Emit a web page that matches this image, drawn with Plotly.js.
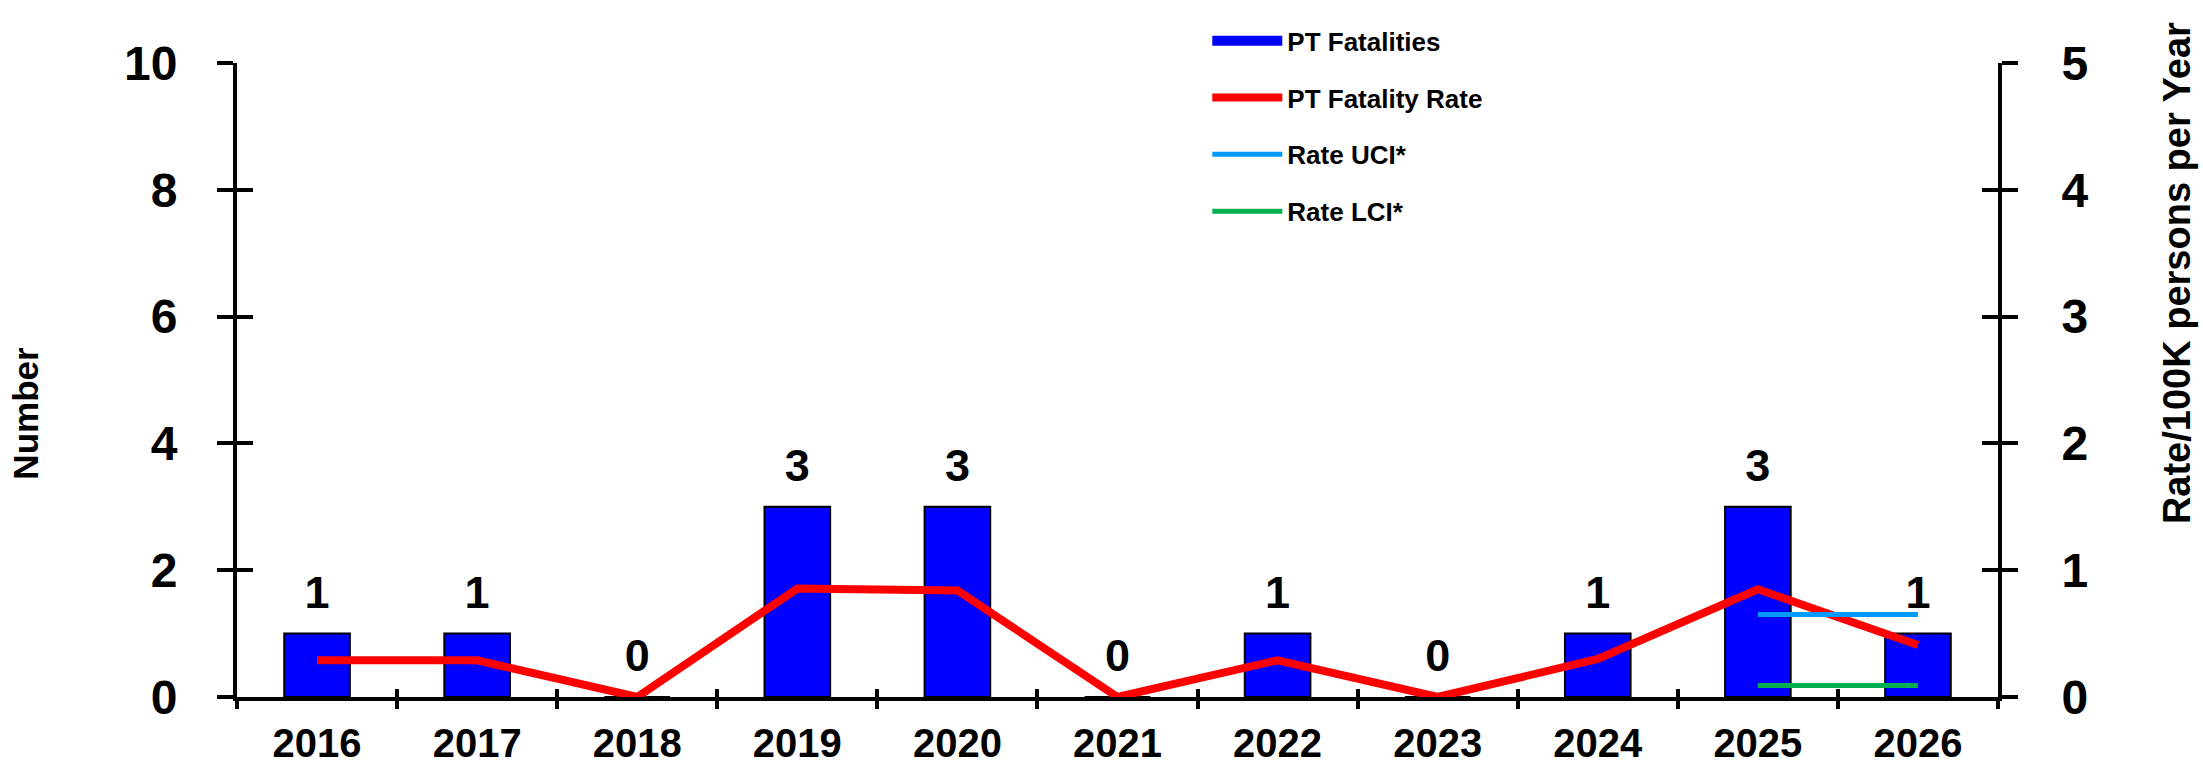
<!DOCTYPE html>
<html>
<head>
<meta charset="utf-8">
<script src="https://cdn.plot.ly/plotly-3.0.1.min.js"></script>
<style>
  html, body { margin: 0; padding: 0; background: #fff; }
  #chart { width: 2203px; height: 764px; }
</style>
</head>
<body>
<div id="chart"></div>
<script>
const years = ["2016", "2017", "2018", "2019", "2020", "2021", "2022", "2023", "2024", "2025", "2026"];
const fatalities = [1, 1, 0, 3, 3, 0, 1, 0, 1, 3, 1];
const fatalityRate = [0.29, 0.29, 0, 0.855, 0.84, 0, 0.29, 0, 0.3, 0.85, 0.41];
const ciYears = ["2025", "2026"];
const rateUCI = [0.65, 0.65];
const rateLCI = [0.09, 0.09];

const FONT = "Liberation Sans, Arial, sans-serif";

const traces = [
  {
    type: "bar",
    name: "PT Fatalities",
    x: years,
    y: fatalities,
    width: 0.41,
    marker: { color: "#0000ff", line: { color: "#000000", width: 2 } },
    showlegend: false,
    hoverinfo: "skip",
  },
  {
    // legend entry for the bars (wide swatch like the original)
    type: "scatter",
    mode: "lines",
    name: "PT Fatalities",
    x: ["2016"],
    y: [null],
    line: { color: "#0000ff", width: 13 },
    legendgroup: "a",
    hoverinfo: "skip",
  },
  {
    type: "scatter",
    mode: "lines",
    name: "PT Fatality Rate",
    x: years,
    y: fatalityRate,
    yaxis: "y2",
    line: { color: "#ff0000", width: 8 },
    legendgroup: "b",
    hoverinfo: "skip",
  },
  {
    type: "scatter",
    mode: "lines",
    name: "Rate UCI*",
    x: ciYears,
    y: rateUCI,
    yaxis: "y2",
    line: { color: "#0099ff", width: 5 },
    legendgroup: "c",
    hoverinfo: "skip",
  },
  {
    type: "scatter",
    mode: "lines",
    name: "Rate LCI*",
    x: ciYears,
    y: rateLCI,
    yaxis: "y2",
    line: { color: "#00b050", width: 5 },
    legendgroup: "d",
    hoverinfo: "skip",
  },
  {
    // count labels above the bars
    type: "scatter",
    mode: "markers+text",
    x: years,
    y: fatalities,
    text: fatalities.map(String),
    textposition: "top center",
    textfont: { family: FONT, size: 45, color: "#000", weight: "bold" },
    marker: { size: 22, opacity: 0 },
    cliponaxis: false,
    showlegend: false,
    hoverinfo: "skip",
  },
  // placeholder traces so the inner tick axes get drawn
  { type: "scatter", mode: "markers", x: [0], y: [null], xaxis: "x2", yaxis: "y", showlegend: false, hoverinfo: "skip" },
  { type: "scatter", mode: "markers", x: ["2016"], y: [null], xaxis: "x", yaxis: "y3", showlegend: false, hoverinfo: "skip" },
  { type: "scatter", mode: "markers", x: ["2016"], y: [null], xaxis: "x", yaxis: "y4", showlegend: false, hoverinfo: "skip" },
];

const tickFont = { family: FONT, size: 48, color: "#000", weight: "bold" };

const layout = {
  width: 2203,
  height: 764,
  margin: { l: 237, r: 205, t: 63, b: 67 },
  paper_bgcolor: "#ffffff",
  plot_bgcolor: "#ffffff",
  font: { family: FONT, color: "#000" },
  showlegend: true,
  legend: {
    x: 0.551,
    y: 1.072,
    xanchor: "left",
    yanchor: "top",
    bgcolor: "rgba(0,0,0,0)",
    font: { family: FONT, size: 26, color: "#000", weight: "bold" },
    tracegroupgap: 20,
    itemwidth: 70,
    traceorder: "grouped",
  },
  xaxis: {
    type: "category",
    range: [-0.5, 10.5],
    tickson: "boundaries",
    ticks: "outside",
    ticklen: 8,
    tickwidth: 4,
    tickcolor: "#000",
    showline: true,
    linewidth: 4,
    linecolor: "#000",
    showgrid: false,
    zeroline: false,
    tickfont: { family: FONT, size: 40, color: "#000", weight: "bold" },
    ticklabelstandoff: 8,
  },
  xaxis2: {
    overlaying: "x",
    anchor: "y",
    side: "bottom",
    range: [-0.5, 10.5],
    tick0: -0.5,
    dtick: 1,
    ticks: "inside",
    ticklen: 8,
    tickwidth: 4,
    tickcolor: "#000",
    showticklabels: false,
    showline: false,
    showgrid: false,
    zeroline: false,
  },
  yaxis: {
    range: [0, 10],
    dtick: 2,
    ticks: "outside",
    ticklen: 16,
    tickwidth: 4,
    tickcolor: "#000",
    showline: true,
    linewidth: 4,
    linecolor: "#000",
    showgrid: false,
    zeroline: false,
    tickfont: tickFont,
    ticklabelstandoff: 30,
  },
  yaxis2: {
    overlaying: "y",
    side: "right",
    anchor: "x",
    range: [0, 5],
    dtick: 1,
    ticks: "outside",
    ticklen: 16,
    tickwidth: 4,
    tickcolor: "#000",
    showline: true,
    linewidth: 4,
    linecolor: "#000",
    showgrid: false,
    zeroline: false,
    tickfont: tickFont,
    ticklabelstandoff: 34,
  },
  yaxis3: {
    overlaying: "y",
    side: "left",
    anchor: "x",
    range: [0, 10],
    dtick: 2,
    ticks: "inside",
    ticklen: 16,
    tickwidth: 4,
    tickcolor: "#000",
    showticklabels: false,
    showline: false,
    showgrid: false,
    zeroline: false,
  },
  yaxis4: {
    overlaying: "y",
    side: "right",
    anchor: "x",
    range: [0, 5],
    dtick: 1,
    ticks: "inside",
    ticklen: 16,
    tickwidth: 4,
    tickcolor: "#000",
    showticklabels: false,
    showline: false,
    showgrid: false,
    zeroline: false,
  },
  annotations: [
    {
      text: "Number",
      xref: "paper",
      yref: "paper",
      x: -0.12,
      y: 0.448,
      xanchor: "center",
      yanchor: "middle",
      textangle: -90,
      showarrow: false,
      font: { family: FONT, size: 35, color: "#000", weight: "bold" },
    },
    {
      text: "Rate/100K persons per Year",
      xref: "paper",
      yref: "paper",
      x: 1.102,
      y: 0.668,
      xanchor: "center",
      yanchor: "middle",
      textangle: -90,
      showarrow: false,
      font: { family: FONT, size: 38, color: "#000", weight: "bold" },
    },
  ],
};

Plotly.newPlot("chart", traces, layout, { staticPlot: true, displayModeBar: false });
</script>
</body>
</html>
